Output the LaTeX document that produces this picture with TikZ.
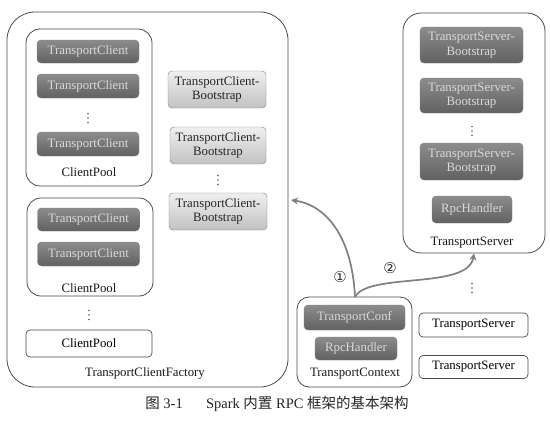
\documentclass[tikz,border=0pt]{standalone}
\usepackage{fontspec}
\setmainfont{Liberation Serif}
\newfontfamily\cjk{Noto Sans CJK SC}
\newfontfamily\symf{DejaVu Sans}
\usetikzlibrary{arrows.meta}
\begin{document}
\begin{tikzpicture}[x=1pt,y=-1pt,
  outer/.style={draw=black!70, line width=0.8pt, rounded corners=#1, inner sep=0pt, fill=white},
  darkbox/.style={draw=black!50, top color=black!45, bottom color=black!62, text=black!15,
    rounded corners=4pt, inner sep=0pt, align=center, font=\fontsize{12.8}{14.5}\selectfont},
  lightbox/.style={draw=black!50, top color=black!6, bottom color=black!24, text=black!85,
    rounded corners=4pt, inner sep=0pt, align=center, font=\fontsize{12.8}{14.5}\selectfont},
  whitebox/.style={draw=black!70, line width=0.7pt, fill=white, rounded corners=4pt, inner sep=0pt,
    font=\fontsize{12.8}{15}\selectfont},
  lbl/.style={font=\fontsize{12.8}{15}\selectfont, text=black!90, inner sep=0pt},
  vdts/.style={inner sep=0pt, minimum size=1pt},
  dotfill/.style={fill=black!65},
  conn/.style={draw=black!50, line width=1.7pt, -{Stealth[length=7pt,width=7pt]}},
  num/.style={font=\symf\fontsize{15}{15}\selectfont, text=black!80, inner sep=0pt}
]
\useasboundingbox (0,0) rectangle (550,423);
\fill[white] (0,0) rectangle (550,423);

% TransportClientFactory
\node[outer=28pt, minimum width=281pt, minimum height=375pt] (tcf) at (147.5,199.5) {};
\node[lbl] (tcfl) at (145,373) {TransportClientFactory};

% ClientPool 1
\node[outer=14pt, minimum width=126pt, minimum height=157pt] (cp1) at (89,107.5) {};
\node[darkbox, minimum width=102pt, minimum height=23pt] (tc1a) at (88,51.5) {TransportClient};
\node[darkbox, minimum width=102pt, minimum height=24pt] (tc1b) at (88,86) {TransportClient};
\node[vdts] (d1) at (88,118) {};
\node[darkbox, minimum width=102pt, minimum height=24pt] (tc1c) at (88,144) {TransportClient};
\node[lbl] (cp1l) at (89,172) {ClientPool};

% ClientPool 2
\node[outer=14pt, minimum width=126pt, minimum height=98pt] (cp2) at (90,247) {};
\node[darkbox, minimum width=102pt, minimum height=23pt] (tc2a) at (88.5,219.5) {TransportClient};
\node[darkbox, minimum width=102pt, minimum height=24pt] (tc2b) at (88.5,254) {TransportClient};
\node[lbl] (cp2l) at (89,288) {ClientPool};

\node[vdts] (d2) at (89,315) {};
\node[whitebox, minimum width=126pt, minimum height=27pt] (cp3) at (89,343.5) {ClientPool};

% Bootstraps
\node[lightbox, minimum width=98pt, minimum height=37pt] (tcb1) at (217,89.5) {TransportClient-\\Bootstrap};
\node[lightbox, minimum width=96pt, minimum height=37pt] (tcb2) at (218,145.5) {TransportClient-\\Bootstrap};
\node[vdts] (d3) at (218,180) {};
\node[lightbox, minimum width=98pt, minimum height=37pt] (tcb3) at (218,211.5) {TransportClient-\\Bootstrap};

% TransportServer
\node[outer=18pt, minimum width=142pt, minimum height=240pt] (ts) at (474,133) {};
\node[darkbox, minimum width=103pt, minimum height=36pt] (tsb1) at (471.5,45) {TransportServer-\\Bootstrap};
\node[darkbox, minimum width=103pt, minimum height=35pt] (tsb2) at (471.5,95.5) {TransportServer-\\Bootstrap};
\node[vdts] (d4) at (472,131) {};
\node[darkbox, minimum width=103pt, minimum height=37pt] (tsb3) at (471.5,161.5) {TransportServer-\\Bootstrap};
\node[darkbox, minimum width=80pt, minimum height=27pt] (rh1) at (472,209.5) {RpcHandler};
\node[lbl] (tsl) at (472,243) {TransportServer};

\node[vdts] (d5) at (472,288) {};
\node[whitebox, minimum width=109pt, minimum height=24pt] (ts1) at (473.5,325) {TransportServer};
\node[whitebox, minimum width=109pt, minimum height=23pt] (ts2) at (473.5,367) {TransportServer};

% vertical ellipses
\foreach \d in {d1,d2,d3,d4,d5}
  \fill[dotfill] (\d.center) ++(0,-4.5) circle[radius=0.85pt]
                 (\d.center) circle[radius=0.85pt]
                 (\d.center) ++(0,4.5) circle[radius=0.85pt];

% TransportContext
\node[outer=12pt, minimum width=115pt, minimum height=90pt] (tctx) at (354.5,342) {};
\node[darkbox, minimum width=101pt, minimum height=25pt] (tconf) at (354.5,317.5) {TransportConf};
\node[darkbox, minimum width=82pt, minimum height=23pt] (rh2) at (356,348.5) {RpcHandler};
\node[lbl] (tctxl) at (355,374) {TransportContext};

% connectors
\coordinate (a1) at (291,200);
\coordinate (src) at (355,297);
\draw[conn] (src) .. controls (352,235) and (325,205) .. (a1);
\draw[conn] (src) .. controls (368,272) and (468,290) .. (ts.south);
\node[num] (n1) at (340,277) {①};
\node[num] (n2) at (390,268) {②};

% caption
\node[inner sep=0pt, font=\fontsize{14.5}{16}\selectfont, text=black!85] (cap) at (277,404)
  {{\cjk 图} 3-1\hspace{1.6em}Spark {\cjk 内置} RPC {\cjk 框架的基本架构}};
\end{tikzpicture}
\end{document}
